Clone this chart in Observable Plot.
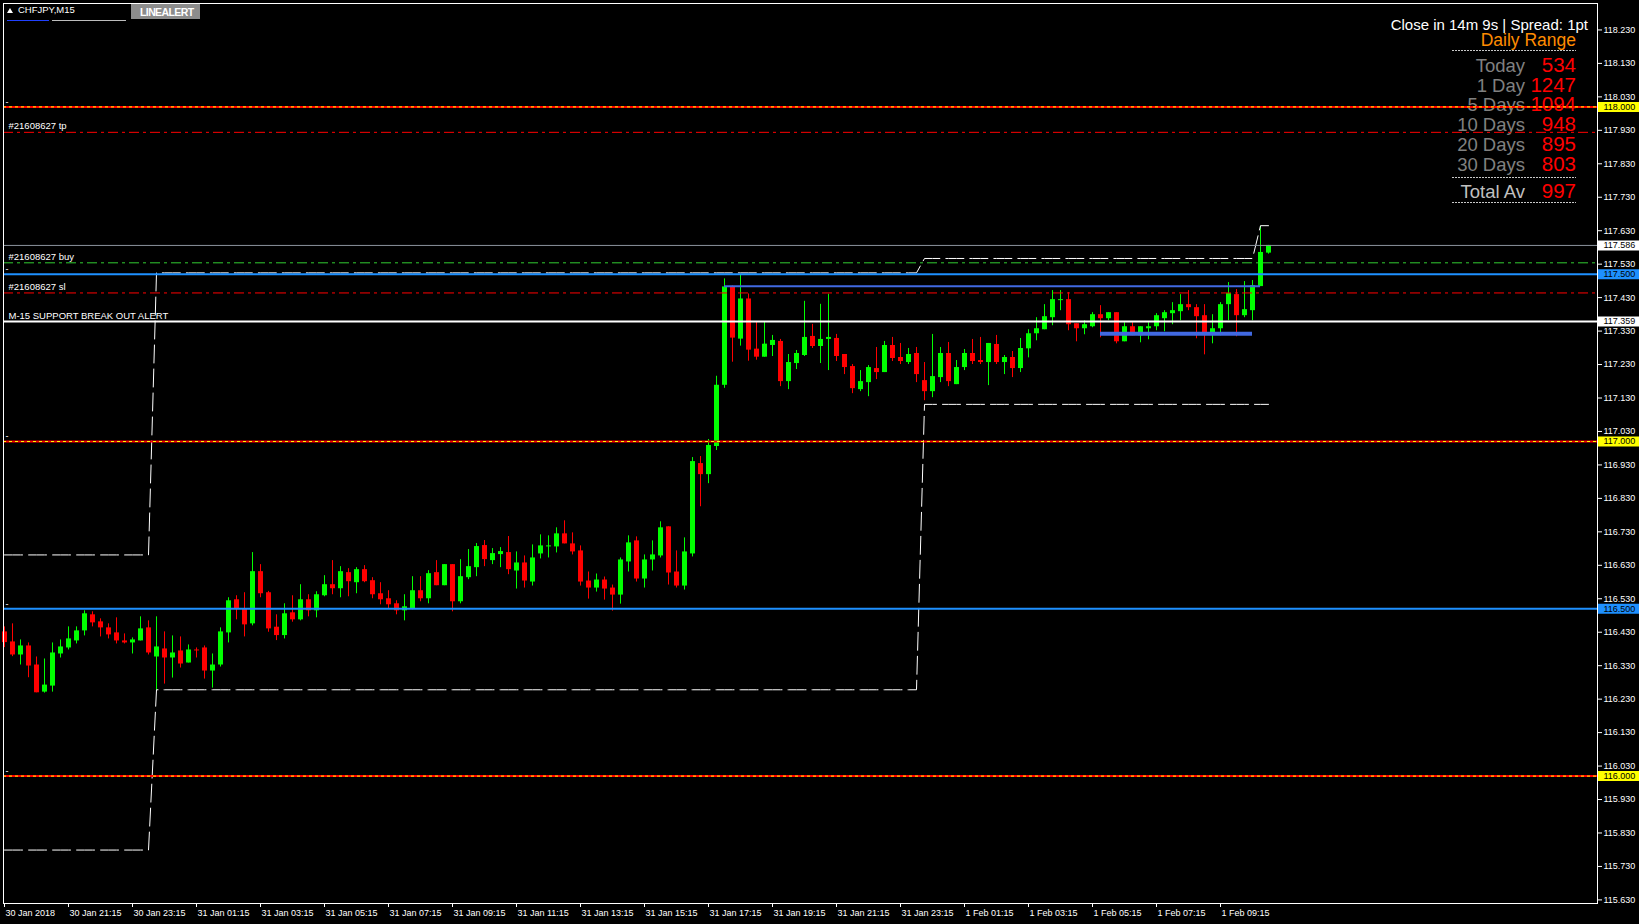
<!DOCTYPE html>
<html><head><meta charset="utf-8">
<script src="https://cdn.jsdelivr.net/npm/d3@7"></script>
<script src="https://cdn.jsdelivr.net/npm/@observablehq/plot@0.6"></script>
<style>
html,body{margin:0;padding:0;background:#000;overflow:hidden;}
#wrap{position:relative;width:1639px;height:924px;font-family:"Liberation Sans",Arial,sans-serif;}
#wrap svg{display:block;}
.ov{position:absolute;}
</style></head>
<body><div id="wrap"></div>
<script>
// ---- data (CHFJPY M15, bar 0 = 30 Jan 2018 19:15) ----
const symbolTitle = "CHFJPY,M15";
const opens = [116.431,116.401,116.362,116.389,116.332,116.251,116.269,116.365,116.383,116.404,116.434,116.482,116.461,116.443,116.428,116.404,116.398,116.404,116.443,116.356,116.380,116.353,116.374,116.338,116.377,116.383,116.314,116.332,116.428,116.527,116.500,116.455,116.611,116.548,116.445,116.420,116.488,116.467,116.527,116.494,116.539,116.572,116.560,116.608,116.578,116.617,116.584,116.545,116.530,116.515,116.494,116.500,116.554,116.530,116.608,116.569,116.632,116.521,116.593,116.623,116.689,116.644,116.662,116.668,116.613,116.637,116.580,116.664,116.685,116.685,116.724,116.694,116.673,116.583,116.562,116.586,116.562,116.541,116.640,116.703,116.589,116.646,116.658,116.745,116.610,116.568,116.664,116.934,116.901,116.985,117.168,117.462,117.306,117.426,117.276,117.252,117.287,117.299,117.179,117.233,117.257,117.314,117.284,117.305,117.308,117.260,117.224,117.155,117.176,117.218,117.206,117.287,117.251,117.236,117.263,117.182,117.149,117.191,117.263,117.170,117.221,117.263,117.242,117.236,117.290,117.236,117.251,117.218,117.277,117.322,117.334,117.370,117.421,117.424,117.352,117.337,117.343,117.379,117.367,117.385,117.298,117.343,117.316,117.337,117.343,117.367,117.382,117.388,117.409,117.400,117.376,117.322,117.337,117.409,117.439,117.376,117.391,117.463,117.563];
const highs = [116.446,116.455,116.407,116.398,116.356,116.350,116.398,116.407,116.446,116.446,116.494,116.491,116.470,116.455,116.473,116.425,116.413,116.476,116.464,116.476,116.431,116.419,116.416,116.392,116.383,116.389,116.365,116.443,116.533,116.539,116.548,116.668,116.632,116.552,116.482,116.515,116.539,116.572,116.542,116.551,116.599,116.644,116.626,116.620,116.623,116.629,116.593,116.578,116.554,116.524,116.542,116.596,116.596,116.614,116.644,116.632,116.632,116.647,116.677,116.695,116.704,116.680,116.683,116.716,116.670,116.658,116.691,116.721,116.718,116.742,116.763,116.727,116.688,116.610,116.604,116.595,116.571,116.652,116.718,116.715,116.661,116.703,116.760,116.745,116.673,116.712,116.952,116.955,117.006,117.195,117.486,117.465,117.498,117.441,117.357,117.357,117.317,117.305,117.260,117.272,117.419,117.350,117.410,117.440,117.320,117.260,117.230,117.212,117.227,117.281,117.299,117.311,117.293,117.278,117.281,117.236,117.320,117.281,117.296,117.242,117.275,117.305,117.311,117.293,117.317,117.257,117.269,117.308,117.334,117.370,117.409,117.451,117.451,117.445,117.352,117.361,117.385,117.406,117.385,117.385,117.355,117.355,117.343,117.355,117.382,117.391,117.415,117.439,117.451,117.409,117.409,117.379,117.415,117.475,117.454,117.478,117.481,117.643,117.586];
const lows = [116.384,116.357,116.332,116.294,116.249,116.248,116.251,116.353,116.377,116.395,116.419,116.446,116.416,116.410,116.395,116.395,116.365,116.404,116.362,116.254,116.275,116.293,116.323,116.338,116.353,116.290,116.263,116.326,116.398,116.467,116.416,116.449,116.533,116.430,116.405,116.410,116.460,116.464,116.476,116.473,116.536,116.542,116.533,116.536,116.545,116.578,116.530,116.512,116.500,116.482,116.464,116.497,116.521,116.515,116.569,116.569,116.491,116.515,116.587,116.596,116.626,116.632,116.623,116.602,116.559,116.562,116.568,116.649,116.652,116.667,116.694,116.661,116.568,116.529,116.550,116.526,116.493,116.514,116.610,116.580,116.562,116.613,116.652,116.571,116.562,116.556,116.655,116.805,116.874,116.973,117.159,117.237,117.285,117.240,117.243,117.252,117.254,117.164,117.155,117.215,117.254,117.278,117.233,117.212,117.239,117.200,117.143,117.149,117.134,117.185,117.206,117.239,117.230,117.230,117.176,117.122,117.131,117.176,117.164,117.170,117.212,117.230,117.230,117.167,117.230,117.200,117.191,117.206,117.250,117.301,117.334,117.346,117.391,117.331,117.298,117.319,117.340,117.310,117.361,117.292,117.298,117.316,117.295,117.304,117.331,117.328,117.349,117.361,117.391,117.307,117.259,117.292,117.316,117.361,117.313,117.370,117.361,117.463,117.560];
const closes = [116.399,116.362,116.389,116.329,116.249,116.272,116.368,116.386,116.410,116.434,116.485,116.458,116.443,116.422,116.404,116.398,116.407,116.440,116.368,116.386,116.353,116.368,116.335,116.377,116.374,116.314,116.332,116.431,116.524,116.500,116.452,116.611,116.545,116.440,116.420,116.485,116.467,116.527,116.494,116.542,116.572,116.560,116.611,116.581,116.617,116.581,116.542,116.527,116.512,116.494,116.506,116.554,116.530,116.605,116.569,116.632,116.521,116.596,116.626,116.686,116.647,116.665,116.671,116.617,116.637,116.583,116.652,116.688,116.688,116.724,116.694,116.670,116.580,116.562,116.586,116.559,116.541,116.646,116.697,116.589,116.646,116.661,116.742,116.607,116.568,116.670,116.940,116.901,116.988,117.168,117.462,117.309,117.426,117.273,117.252,117.291,117.302,117.179,117.236,117.263,117.311,117.284,117.305,117.311,117.254,117.221,117.158,117.179,117.221,117.206,117.287,117.248,117.239,117.260,117.200,117.149,117.194,117.263,117.179,117.221,117.263,117.239,117.236,117.293,117.236,117.251,117.218,117.278,117.322,117.337,117.373,117.424,117.424,117.349,117.337,117.349,117.379,117.367,117.385,117.298,117.343,117.316,117.343,117.343,117.376,117.385,117.391,117.409,117.400,117.373,117.322,117.337,117.409,117.442,117.376,117.394,117.466,117.565,117.586];

const xTickBars = [0,8,16,24,32,40,48,56,64,72,80,88,96,104,112,120,128,136,144,152];
const xTickLabels = ["30 Jan 2018","30 Jan 21:15","30 Jan 23:15","31 Jan 01:15","31 Jan 03:15","31 Jan 05:15","31 Jan 07:15","31 Jan 09:15","31 Jan 11:15","31 Jan 13:15","31 Jan 15:15","31 Jan 17:15","31 Jan 19:15","31 Jan 21:15","31 Jan 23:15","1 Feb 01:15","1 Feb 03:15","1 Feb 05:15","1 Feb 07:15","1 Feb 09:15"];
const yTicks = [118.23,118.13,118.03,117.93,117.83,117.73,117.63,117.53,117.43,117.33,117.23,117.13,117.03,116.93,116.83,116.73,116.63,116.53,116.43,116.33,116.23,116.13,116.03,115.93,115.83,115.73,115.63];

const roundLevels = [118.0, 117.0, 116.0];
const blueLevels = [117.5, 116.5];
const bidPrice = 117.586;
const alertLevel = 117.359;
const alertText = "M-15 SUPPORT BREAK OUT ALERT";
const orderTicket = "#21608627";
const orderNames = ["tp", "buy", "sl"];
const orderPrices = [117.924, 117.534, 117.444];

// day high / low step indicator (bar index where each level starts)
const upperStarts = [0, 19, 115, 157];
const upperValues = [116.661, 117.504, 117.547, 117.645];
const lowerStarts = [0, 19, 115];
const lowerValues = [115.779, 116.258, 117.111];

// trend lines (bar from, bar to, price)
const trendFrom = [90, 137];
const trendTo = [157, 156];
const trendPrice = [117.464, 117.322];

const closeText = "Close in 14m 9s | Spread: 1pt";
const rangeTitle = "Daily Range";
const rangeLabels = ["Today","1 Day","5 Days","10 Days","20 Days","30 Days"];
const rangeValues = [534,1247,1094,948,895,803];
const totalLabel = "Total Av";
const totalValue = 997;

// ---- build ----
const n = opens.length;
const bars = d3.range(n).map(i => ({i, o: opens[i], h: highs[i], l: lows[i], c: closes[i]}));
const col = d => d.c >= d.o ? "#00ff00" : "#ff0000";
const stepSeries = (starts, values) => d3.range(n).map(i => ({i, v: values[d3.bisectRight(starts, i) - 1]}));
const upper = stepSeries(upperStarts, upperValues);
const lower = stepSeries(lowerStarts, lowerValues);
const trends = trendFrom.map((a, k) => ({a, b: trendTo[k], v: trendPrice[k], w: k === 0 ? 2 : 4}));
const orders = orderNames.map((nm, k) => ({t: orderTicket + " " + nm, v: orderPrices[k], c: nm === "buy" ? "#32cd32" : "#ff0000"}));

const priceBoxes = [
  ...roundLevels.map(v => ({v, bg: "#ffff00"})),
  ...blueLevels.map(v => ({v, bg: "#1e90ff"})),
  {v: bidPrice, bg: "#ffffff"},
  {v: alertLevel, bg: "#ffffff"}
];
const dashMarks = [...roundLevels, ...blueLevels];

const svg = Plot.plot({
  width: 1639, height: 924,
  marginLeft: 3, marginRight: 42, marginTop: 3, marginBottom: 21,
  style: {background: "#000", color: "#fff", fontFamily: "'Liberation Sans', Arial, sans-serif", fontSize: "9px"},
  x: {domain: [-0.125, 199.125], axis: "bottom", ticks: xTickBars, tickFormat: d => xTickLabels[xTickBars.indexOf(d)], tickSize: 4, tickPadding: 2, label: null},
  y: {domain: [115.61925, 118.30903], axis: "right", ticks: yTicks, tickFormat: d => d.toFixed(3), tickSize: 4, tickPadding: 2, label: null},
  marks: [
    Plot.ruleX(bars, {x: "i", y1: "l", y2: "h", stroke: col, strokeWidth: 1}),
    Plot.ruleX(bars, {x: "i", y1: d => Math.min(d.o, d.c), y2: d => Math.max(d.o, d.c), stroke: col, strokeWidth: 5}),
    Plot.line(upper, {x: "i", y: "v", stroke: "#fff", strokeWidth: 1, strokeDasharray: "18,6"}),
    Plot.line(lower, {x: "i", y: "v", stroke: "#fff", strokeWidth: 1, strokeDasharray: "18,6"}),
    Plot.ruleY(orders, {y: "v", stroke: "c", strokeWidth: 1, strokeDasharray: "10,4,3,4"}),
    Plot.ruleY([bidPrice], {stroke: "#8c939d", strokeWidth: 1}),
    Plot.ruleY(blueLevels, {stroke: "#1e90ff", strokeWidth: 2}),
    Plot.ruleY([alertLevel], {stroke: "#fff", strokeWidth: 2}),
    Plot.ruleY(roundLevels, {stroke: "#ff0000", strokeWidth: 2}),
    Plot.ruleY(roundLevels, {stroke: "#ffff00", strokeWidth: 1, strokeDasharray: "3,3"}),
    Plot.ruleY(trends, {y: "v", x1: "a", x2: "b", stroke: "#4169e1", strokeWidth: "w"}),
    Plot.frame({stroke: "#fff"}),
    Plot.text(orders, {y: "v", text: "t", frameAnchor: "left", dx: 5, dy: -6, textAnchor: "start", fill: "#fff", fontSize: 9.5}),
    Plot.text([alertLevel], {y: d => d, text: () => alertText, frameAnchor: "left", dx: 5, dy: -5, textAnchor: "start", fill: "#fff", fontSize: 9.5}),
    Plot.text(dashMarks, {y: d => d, text: () => "-", frameAnchor: "left", dx: 2, dy: -5, textAnchor: "start", fill: "#fff", fontSize: 9}),
    Plot.ruleY(priceBoxes, {y: "v", stroke: "bg", strokeWidth: 10, insetLeft: 1595, insetRight: -42}),
    Plot.text(priceBoxes, {y: "v", text: d => d.v.toFixed(3), frameAnchor: "right", dx: 6, textAnchor: "start", fill: "#000", fontSize: 9})
  ]
});

// x-axis labels start at their tick
d3.select(svg).selectAll('g[aria-label^="x-axis"] text').attr("text-anchor", "start").attr("dx", 1);

// Daily Range panel, drawn beneath the chart lines
const panel = d3.select(svg).insert("g", "g").attr("font-family", "'Liberation Sans', Arial, sans-serif");
panel.append("text").attr("x", 1588).attr("y", 29.5).attr("text-anchor", "end").attr("fill", "#fff").attr("font-size", 15).text(closeText);
panel.append("text").attr("x", 1576).attr("y", 46).attr("text-anchor", "end").attr("fill", "#ff8c00").attr("font-size", 17.5).text(rangeTitle);
const sep = y => panel.append("line").attr("x1", 1452).attr("x2", 1576).attr("y1", y).attr("y2", y).attr("stroke", "#c8c8c8").attr("stroke-dasharray", "2,1");
sep(50.5);
rangeLabels.forEach((lab, i) => {
  const y = 71.7 + 19.8 * i;
  panel.append("text").attr("x", 1525).attr("y", y).attr("text-anchor", "end").attr("fill", "#808080").attr("font-size", 18.5).text(lab);
  panel.append("text").attr("x", 1576).attr("y", y).attr("text-anchor", "end").attr("fill", "#ff0000").attr("font-size", 20.5).text(rangeValues[i]);
});
sep(177.5);
panel.append("text").attr("x", 1525).attr("y", 198.3).attr("text-anchor", "end").attr("fill", "#c0c0c0").attr("font-size", 18.5).text(totalLabel);
panel.append("text").attr("x", 1576).attr("y", 198.3).attr("text-anchor", "end").attr("fill", "#ff0000").attr("font-size", 20.5).text(totalValue);
sep(202.5);

const wrap = document.getElementById("wrap");
wrap.appendChild(svg);

// window header decorations
wrap.insertAdjacentHTML("beforeend", `
<div class="ov" style="left:7px;top:8px;width:0;height:0;border-left:3.5px solid transparent;border-right:3.5px solid transparent;border-bottom:5px solid #fff;"></div>
<div class="ov" style="left:18px;top:4px;color:#fff;font-size:9.5px;line-height:12px;">${symbolTitle}</div>
<div class="ov" style="left:7px;top:20px;width:42px;height:1px;background:#2040ff;"></div>
<div class="ov" style="left:52px;top:20px;width:74px;height:1px;background:#bdbdbd;"></div>
<div class="ov" style="left:131px;top:4px;width:69px;height:15px;background:#8c8c8c;">
  <div style="position:absolute;left:9px;top:2px;color:#fff;font-size:10.5px;font-weight:bold;line-height:12px;letter-spacing:-0.6px;">LINEALERT</div>
</div>`);
</script>
</body></html>
